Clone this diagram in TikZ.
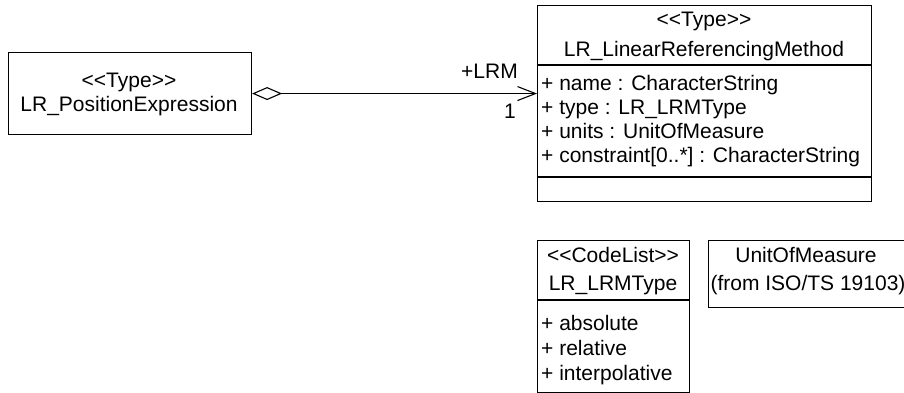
\documentclass[tikz,border=0pt]{standalone}
\usepackage{fontspec}
\setmainfont{Liberation Sans}
\usetikzlibrary{arrows.meta}
\newcommand\stereo[1]{<\kern0pt<#1>\kern0pt>}
\begin{document}
\begin{tikzpicture}[x=1pt,y=-1pt,
  box/.style={draw,line width=1.1pt,anchor=north west,inner sep=0pt},
  txt/.style={font=\fontsize{21}{25}\selectfont,inner sep=0pt,anchor=base},
  attr/.style={txt,anchor=base west},
  sep/.style={line width=1.1pt},
  assoc/.style={line width=1.1pt,
    {Diamond[open,length=30pt,width=13pt,line width=1.1pt]}-{Straight Barb[length=18pt,width=14pt,line width=1.1pt]}}
  ]
\useasboundingbox (0,0) rectangle (904,392);
\clip (0,0) rectangle (904,392);
% LR_PositionExpression
\node[box,minimum width=243pt,minimum height=82pt] (pe) at (8,52) {};
\node[txt] (pe1) at (129,87) {\stereo{Type}};
\node[txt] (pe2) at (129,111) {LR\_PositionExpression};
% LR_LinearReferencingMethod
\node[box,minimum width=334pt,minimum height=196pt] (lrm) at (537,5) {};
\draw[sep] (537,65) coordinate (lrmsa) -- (871,65) coordinate (lrmsb);
\draw[sep] (537,177) coordinate (lrmsc) -- (871,177) coordinate (lrmsd);
\node[txt] (lrm1) at (704,26) {\stereo{Type}};
\node[txt] (lrm2) at (704,56) {LR\_LinearReferencingMethod};
\node[attr] (a1) at (541,90) {+ name : CharacterString};
\node[attr] (a2) at (541,114) {+ type : LR\_LRMType};
\node[attr] (a3) at (541,138) {+ units : UnitOfMeasure};
\node[attr] (a4) at (541,162) {+ constraint[0..*] : CharacterString};
% association
\draw[assoc] (pe.east) -- (lrm.west |- pe.east);
\node[txt,anchor=base east] (role) at (518,78) {+LRM};
\node[txt,anchor=base east] (mult) at (516,118) {1};
% LR_LRMType
\node[box,minimum width=152pt,minimum height=152pt] (lt) at (537,240) {};
\draw[sep] (537,300) coordinate (ltsa) -- (689,300) coordinate (ltsb);
\node[txt] (lt1) at (613,262) {\stereo{CodeList}};
\node[txt] (lt2) at (613,290) {LR\_LRMType};
\node[attr] (b1) at (541,330) {+ absolute};
\node[attr] (b2) at (541,355) {+ relative};
\node[attr] (b3) at (541,380) {+ interpolative};
% UnitOfMeasure
\node[box,minimum width=210pt,minimum height=67pt] (um) at (708,240) {};
\node[txt] (um1) at (806,262) {UnitOfMeasure};
\node[txt] (um2) at (808,290) {(from ISO/TS 19103)};
\end{tikzpicture}
\end{document}
